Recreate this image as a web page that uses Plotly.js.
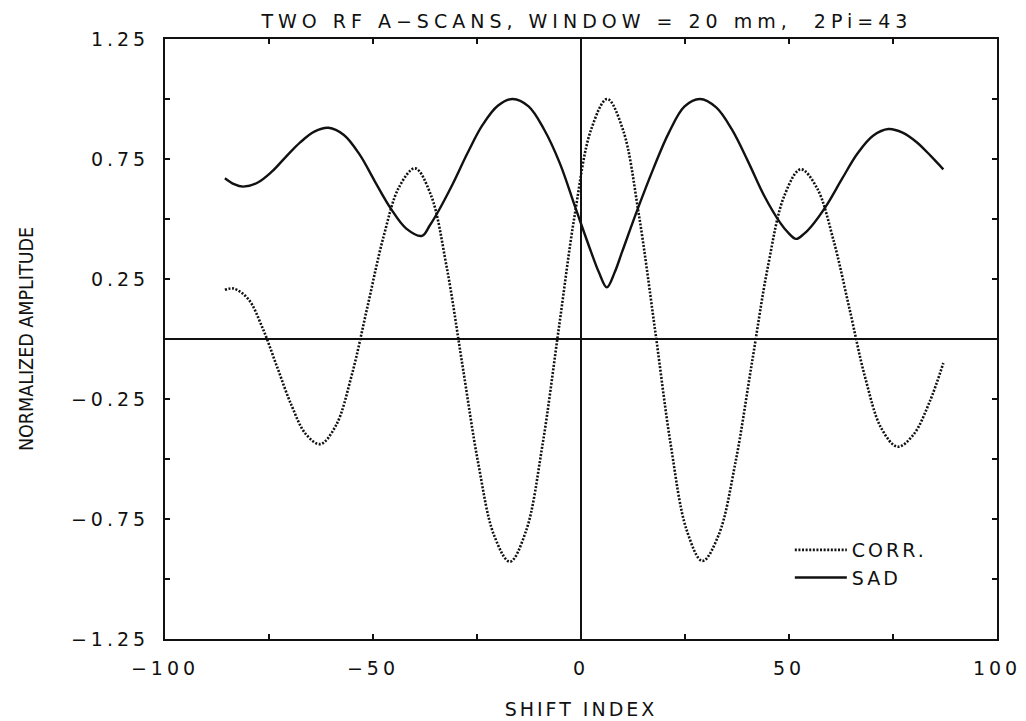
<!DOCTYPE html>
<html>
<head>
<meta charset="utf-8">
<script src="https://cdn.plot.ly/plotly-3.0.1.min.js"></script>
<style>
  html, body { margin: 0; padding: 0; background: #ffffff; }
  #chart { width: 1026px; height: 721px; }
  .xtick text, .ytick text { letter-spacing: 4px; }
  .gtitle { letter-spacing: 5px; }
  .g-xtitle text { letter-spacing: 3px; }
  .legendtext { letter-spacing: 3px; }
</style>
</head>
<body>
<div id="chart"></div>
<script>
// ---- data ----
const corrX = [-85.6, -83.5, -80.0, -76.6, -73.1, -69.6, -66.2, -62.7, -58.9, -55.1, -51.3, -47.5, -43.7, -39.9,
  -36.1, -32.3, -28.5, -24.7, -20.9, -17.1, -13.2, -9.3, -5.4, -1.5, 2.4, 6.3, 10.1, 13.9, 17.8, 21.6, 25.4,
  29.2, 33.1, 37.1, 41.0, 44.9, 48.9, 52.8, 56.7, 60.6, 64.5, 68.3, 72.2, 76.1, 79.9, 83.8, 87.1];
const corrY = [0.205, 0.21, 0.167, 0.048, -0.114, -0.276, -0.395, -0.438, -0.36, -0.15, 0.137, 0.424, 0.634, 0.711,
  0.601, 0.301, -0.109, -0.518, -0.818, -0.928, -0.799, -0.446, 0.036, 0.518, 0.871, 1.0, 0.871, 0.519, 0.038, -0.444, -0.796,
  -0.925, -0.816, -0.517, -0.109, 0.299, 0.598, 0.707, 0.63, 0.418, 0.129, -0.16, -0.372, -0.449, -0.399, -0.262, -0.1];

const sadX = [-85.6, -83.4, -81.2, -77.8, -74.4, -71.0, -67.5, -64.1, -60.7, -57.0, -53.2, -49.5, -45.7, -42.0, -38.2,
  -36.4, -34.6, -30.9, -27.3, -23.7, -20.0, -16.4, -12.6, -8.9, -5.1, -1.3, 2.4, 4.3, 6.2, 8.1, 9.9, 13.7, 17.4, 21.1,
  24.9, 28.6, 32.5, 36.3, 40.2, 44.0, 47.9, 49.8, 51.7, 53.6, 55.4, 59.1, 62.8, 66.5, 70.2, 73.9, 77.3, 80.7, 84.0, 87.1];
const sadY = [0.67, 0.645, 0.635, 0.651, 0.696, 0.758, 0.819, 0.864, 0.88, 0.85, 0.768, 0.655, 0.543, 0.46, 0.43,
  0.472, 0.523, 0.644, 0.774, 0.891, 0.972, 1.0, 0.969, 0.874, 0.733, 0.545, 0.364, 0.278, 0.215, 0.278, 0.364, 0.545, 0.71, 0.859,
  0.969, 1.0, 0.965, 0.872, 0.738, 0.598, 0.484, 0.443, 0.417, 0.438, 0.47, 0.559, 0.669, 0.774, 0.847, 0.875, 0.86, 0.82, 0.764, 0.707];

const seriesNames = ['CORR.', 'SAD'];
const xTickVals = [-100, -75, -50, -25, 0, 25, 50, 75, 100];
const xTickText = ['\u2212100', '', '\u221250', '', '0', '', '50', '', '100'];
const yTickVals = [-1.25, -1, -0.75, -0.5, -0.25, 0, 0.25, 0.5, 0.75, 1, 1.25];
const yTickText = ['\u22121.25', '', '\u22120.75', '', '\u22120.25', '', '0.25', '', '0.75', '', '1.25'];
const chartTitle = 'TWO RF A\u2212SCANS, WINDOW = 20 mm,  2Pi=43';
const xTitle = 'SHIFT INDEX';
const yTitle = 'NORMALIZED AMPLITUDE';

const FONT = 'DejaVu Sans, Liberation Sans, sans-serif';
const INK = '#111111';

const traces = [
  {
    x: corrX, y: corrY, name: seriesNames[0], type: 'scatter', mode: 'lines',
    line: { color: INK, width: 2.6, dash: '2px,1.6px', shape: 'spline', smoothing: 1 }
  },
  {
    x: sadX, y: sadY, name: seriesNames[1], type: 'scatter', mode: 'lines',
    line: { color: INK, width: 2.4, shape: 'spline', smoothing: 1 }
  }
];

const layout = {
  width: 1026, height: 721,
  margin: { l: 165, r: 29, t: 39, b: 82, pad: 0 },
  paper_bgcolor: '#ffffff', plot_bgcolor: 'rgba(0,0,0,0)',
  font: { family: FONT, color: INK, size: 17 },
  title: { text: chartTitle, font: { family: FONT, size: 19, color: INK }, x: 0.572, xanchor: 'center', y: 0.97, yanchor: 'middle' },
  showlegend: true,
  legend: {
    x: 0.751, y: 0.18, xanchor: 'left', yanchor: 'top',
    bgcolor: 'rgba(0,0,0,0)', borderwidth: 0,
    font: { family: FONT, size: 19, color: INK },
    itemwidth: 52, tracegroupgap: 0
  },
  xaxis: {
    range: [-100, 100], autorange: false,
    showline: true, linecolor: INK, linewidth: 2, mirror: 'ticks',
    ticks: 'inside', ticklen: 5, tickwidth: 1.5, tickcolor: INK,
    tickmode: 'array', tickvals: xTickVals, ticktext: xTickText,
    tickfont: { family: FONT, size: 19, color: INK },
    ticklabelstandoff: 11,
    showgrid: false, zeroline: true, zerolinecolor: INK, zerolinewidth: 1.2,
    title: { text: xTitle, font: { family: FONT, size: 19, color: INK }, standoff: 25 },
    automargin: false
  },
  yaxis: {
    range: [-1.25, 1.25], autorange: false,
    showline: true, linecolor: INK, linewidth: 2, mirror: 'ticks',
    ticks: 'inside', ticklen: 5, tickwidth: 1.5, tickcolor: INK,
    tickmode: 'array', tickvals: yTickVals, ticktext: yTickText,
    tickfont: { family: FONT, size: 19, color: INK },
    ticklabelstandoff: 10,
    showgrid: false, zeroline: true, zerolinecolor: INK, zerolinewidth: 1.2,
    title: { text: yTitle, font: { family: 'Liberation Sans Narrow, DejaVu Sans Condensed, Liberation Sans, sans-serif', size: 19.5, color: INK }, standoff: 32 },
    automargin: false
  }
};

Plotly.newPlot('chart', traces, layout, { displayModeBar: false, staticPlot: true });
</script>
</body>
</html>
